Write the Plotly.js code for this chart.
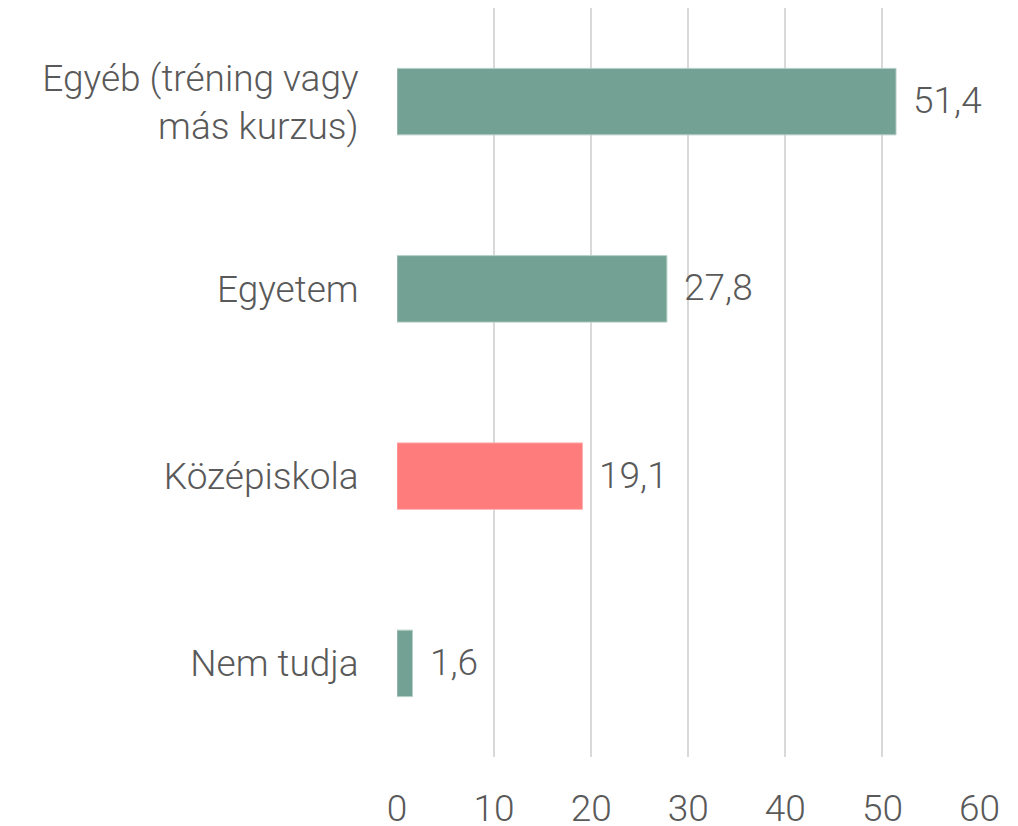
<!DOCTYPE html>
<html>
<head>
<meta charset="utf-8">
<script src="https://cdn.plot.ly/plotly-3.0.1.min.js"></script>
<style>html,body{margin:0;padding:0;background:#fff;}#chart{width:1018px;height:826px;}</style>
</head>
<body>
<div id="chart"></div>
<script>
const categories = ["Egyéb (tréning vagy<br>más kurzus)", "Egyetem", "Középiskola", "Nem tudja"];
const values = [51.4, 27.8, 19.1, 1.6];
const barColors = ["#73A194", "#73A194", "#FF7C7C", "#73A194"];
const lineColors = ["#B5CEC6", "#B5CEC6", "#FFB0B0", "#B5CEC6"];
const xTicks = [0, 10, 20, 30, 40, 50, 60];

const fontFam = "Roboto, sans-serif";
const gray = "#595959";
const fsize = 37;

const trace = {
  type: "bar",
  orientation: "h",
  x: values,
  y: categories,
  width: 0.355,
  marker: {color: barColors, line: {color: lineColors, width: 1}},
  hoverinfo: "none"
};

const annotations = values.map((v, i) => ({
  x: v, y: categories[i], xref: "x", yref: "y",
  text: v.toFixed(1).replace(".", ","),
  showarrow: false, xanchor: "left", yanchor: "middle", xshift: 15, yshift: 1,
  font: {family: fontFam, size: fsize, color: gray, weight: 300}
}));

const layout = {
  width: 1018, height: 826,
  margin: {l: 397, r: 38, t: 8, b: 69},
  paper_bgcolor: "#fff", plot_bgcolor: "#fff",
  showlegend: false,
  xaxis: {
    range: [0, 60.05],
    tickvals: xTicks,
    ticktext: xTicks.map(String),
    showgrid: true, gridcolor: "#D9D9D9", gridwidth: 2,
    zeroline: false, showline: false,
    ticks: "outside", ticklen: 19, tickcolor: "rgba(0,0,0,0)",
    tickfont: {family: fontFam, size: fsize, color: gray, weight: 300},
    fixedrange: true
  },
  yaxis: {
    type: "category",
    categoryorder: "array",
    categoryarray: categories,
    autorange: false,
    range: [3.5, -0.5],
    showgrid: false, zeroline: false, showline: false,
    ticks: "outside", ticklen: 30, tickcolor: "rgba(0,0,0,0)",
    tickfont: {family: fontFam, size: fsize, color: gray, weight: 300},
    fixedrange: true
  },
  annotations: annotations
};

Plotly.newPlot("chart", [trace], layout, {displayModeBar: false, staticPlot: true});
</script>
</body>
</html>
